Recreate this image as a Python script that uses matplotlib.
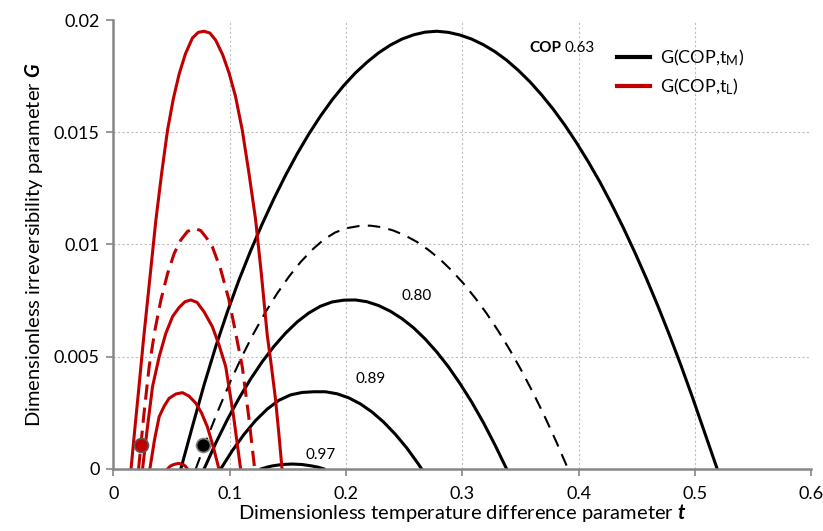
import matplotlib
matplotlib.use("Agg")
import matplotlib.pyplot as plt
from matplotlib.lines import Line2D

plt.rcParams['font.family'] = ['Lato', 'DejaVu Sans']
plt.rcParams['mathtext.fontset'] = 'custom'
plt.rcParams['mathtext.rm'] = 'Lato'
plt.rcParams['mathtext.it'] = 'Lato:italic'
plt.rcParams['mathtext.bf'] = 'Lato:bold'
plt.rcParams['mathtext.bfit'] = 'Lato:italic:bold'

# ---- data ----
# G(COP, t_M) curves (black)
tM_063 = [0.058, 0.068, 0.078, 0.088, 0.098, 0.108, 0.118, 0.128, 0.138, 0.148, 0.158, 0.168, 0.178, 0.188,
          0.198, 0.208, 0.218, 0.228, 0.238, 0.248, 0.258, 0.268, 0.278,
          0.288, 0.298, 0.308, 0.318, 0.328, 0.338, 0.348, 0.358, 0.368, 0.378, 0.388, 0.398, 0.408, 0.418,
          0.428, 0.438, 0.448, 0.458, 0.468, 0.478, 0.488, 0.498, 0.508, 0.519]
GM_063 = [0.0, 0.0019, 0.00375, 0.00545, 0.0070, 0.00842, 0.00972, 0.01092, 0.01204, 0.01308, 0.01404,
          0.01492, 0.01572, 0.01644, 0.01708, 0.01764, 0.01812, 0.01854, 0.01888, 0.01915, 0.01934, 0.01946,
          0.0195,
          0.01945, 0.01933, 0.01915, 0.0189, 0.01859, 0.01821, 0.01776, 0.01725, 0.01667, 0.01603, 0.01532,
          0.01454, 0.0137, 0.0128, 0.01182, 0.01078, 0.00967, 0.0085, 0.00726, 0.00596, 0.00459, 0.00315,
          0.00165, 0.0]

tM_071 = [0.0708, 0.0808, 0.0908, 0.1008, 0.1108, 0.1208, 0.1308, 0.1408, 0.1508, 0.1608, 0.1708, 0.1808,
          0.1908, 0.2008, 0.2108, 0.2208,
          0.2308, 0.2408, 0.2508, 0.2608, 0.2708, 0.2808, 0.2908, 0.3008, 0.3108, 0.3208, 0.3308, 0.3408,
          0.3508, 0.3608, 0.3708, 0.3808, 0.3908]
GM_071 = [0.0, 0.0014, 0.0027, 0.00392, 0.00504, 0.00606, 0.00699, 0.00782, 0.00856, 0.00921, 0.00976,
          0.01022, 0.01054, 0.01073, 0.01082, 0.01084,
          0.01077, 0.01062, 0.0104, 0.01012, 0.00976, 0.00934, 0.00884, 0.00827, 0.00763, 0.00693, 0.00615,
          0.0053, 0.00438, 0.00339, 0.00233, 0.0012, 0.0]

tM_080 = [0.078, 0.088, 0.098, 0.108, 0.118, 0.128, 0.138, 0.148, 0.158, 0.168, 0.178, 0.188, 0.198,
          0.208, 0.218, 0.228, 0.238, 0.248, 0.258, 0.268, 0.278, 0.288, 0.298, 0.308, 0.318, 0.328, 0.338]
GM_080 = [0.0, 0.00115, 0.0022, 0.00315, 0.00401, 0.00478, 0.00546, 0.00605, 0.00655, 0.00695, 0.00725,
          0.00744, 0.00752,
          0.00753, 0.00745, 0.00728, 0.00703, 0.0067, 0.00629, 0.00579, 0.00521, 0.00455, 0.0038, 0.00298,
          0.00207, 0.00107, 0.0]

tM_089 = [0.0923, 0.1023, 0.1123, 0.1223, 0.1323, 0.1423, 0.1523, 0.1623, 0.1723,
          0.1823, 0.1923, 0.2023, 0.2123, 0.2223, 0.2323, 0.2423, 0.2523, 0.2623, 0.265]
GM_089 = [0.0, 0.00082, 0.00154, 0.00216, 0.00267, 0.00306, 0.0033, 0.00341, 0.00344,
          0.00344, 0.00335, 0.00317, 0.0029, 0.00254, 0.00209, 0.00155, 0.00093, 0.00021, 0.0]

tM_097 = [0.127, 0.132, 0.137, 0.145, 0.154, 0.162, 0.170, 0.176, 0.181]
GM_097 = [0.0, 0.00008, 0.00014, 0.0002, 0.00022, 0.0002, 0.00014, 0.00008, 0.0]

# G(COP, t_L) curves (red)
tL_063 = [0.0152, 0.0187, 0.0223, 0.0258, 0.0294, 0.033, 0.0366, 0.0416, 0.0466, 0.0516, 0.0566, 0.062, 0.068,
          0.073, 0.078, 0.083, 0.088, 0.094, 0.0994, 0.105, 0.1108, 0.1165, 0.1223, 0.1272, 0.1322, 0.1358,
          0.1394, 0.1422, 0.145]
GL_063 = [0.0, 0.0019, 0.0038, 0.0057, 0.0075, 0.0093, 0.0111, 0.0132, 0.0151, 0.0165, 0.0176, 0.0185, 0.0192,
          0.01945, 0.0195, 0.01942, 0.0191, 0.01845, 0.01765, 0.0166, 0.0151, 0.0132, 0.0111, 0.0087, 0.0060,
          0.0046, 0.0031, 0.0016, 0.0]

tL_071 = [0.0217, 0.0262, 0.0308, 0.0358, 0.0409, 0.0466, 0.0523, 0.058, 0.0637, 0.0694, 0.0751, 0.080, 0.0851,
          0.0922, 0.0994, 0.105, 0.1108, 0.1162, 0.1215]
GL_071 = [0.0, 0.0024, 0.00456, 0.0062, 0.00753, 0.0087, 0.0096, 0.0102, 0.01058, 0.01072, 0.01062, 0.0103,
          0.0099, 0.0089, 0.00753, 0.0061, 0.00456, 0.0024, 0.0]

tL_080 = [0.0251, 0.0294, 0.0337, 0.0394, 0.0451, 0.051, 0.0566, 0.0616, 0.0666, 0.072, 0.078, 0.0851, 0.091,
          0.0966, 0.1032, 0.1094]
GL_080 = [0.0, 0.0019, 0.00367, 0.0050, 0.00604, 0.0068, 0.0072, 0.00745, 0.00753, 0.00742, 0.0070, 0.00634,
          0.0055, 0.00456, 0.0024, 0.0]

tL_089 = [0.0314, 0.0354, 0.0394, 0.0437, 0.048, 0.0537, 0.0594, 0.065, 0.0709, 0.0758, 0.0808, 0.0858, 0.0908]
GL_089 = [0.0, 0.0013, 0.00233, 0.0028, 0.00315, 0.00334, 0.0034, 0.00325, 0.00293, 0.0025, 0.00188, 0.0010, 0.0]

tL_097 = [0.0466, 0.049, 0.052, 0.0561, 0.060, 0.062, 0.0637]
GL_097 = [0.0, 0.00013, 0.0002, 0.00025, 0.0002, 0.00012, 0.0]

# marker points
pt_L = (0.0237, 0.00107)
pt_M = (0.0774, 0.00107)

# curve labels
cop_labels = ["0.80", "0.89", "0.97"]
cop_label_pos = [(0.261, 0.0077), (0.221, 0.0040), (0.178, 0.00062)]

xticks = [0, 0.1, 0.2, 0.3, 0.4, 0.5, 0.6]
xticklabels = ["0", "0.1", "0.2", "0.3", "0.4", "0.5", "0.6"]
yticks = [0, 0.005, 0.01, 0.015, 0.02]
yticklabels = ["0", "0.005", "0.01", "0.015", "0.02"]

RED = "#C00000"
LW = 2.2

fig = plt.figure(figsize=(8.23, 5.31), dpi=100)
ax = fig.add_axes([0.1377, 0.1168, 0.8483, 0.8455])

# grid
for gx in xticks[1:-1]:
    ax.axvline(gx, color="#BFBFBF", lw=0.8, ls=(0, (2, 2)), zorder=0)
for gy in yticks[1:-1]:
    ax.axhline(gy, color="#BFBFBF", lw=0.8, ls=(0, (2, 2)), zorder=0)

kw = dict(solid_joinstyle="round", dash_joinstyle="round")
# black curves
ax.plot(tM_063, GM_063, color="black", lw=LW, **kw)
ax.plot(tM_071, GM_071, color="black", lw=1.5, ls=(0, (6, 4)), **kw)
ax.plot(tM_080, GM_080, color="black", lw=LW, **kw)
ax.plot(tM_089, GM_089, color="black", lw=LW, **kw)
ax.plot(tM_097, GM_097, color="black", lw=LW, **kw)

# red curves
ax.plot(tL_063, GL_063, color=RED, lw=LW, **kw)
ax.plot(tL_071, GL_071, color=RED, lw=LW, ls=(0, (5, 2.6)), **kw)
ax.plot(tL_080, GL_080, color=RED, lw=LW, **kw)
ax.plot(tL_089, GL_089, color=RED, lw=LW, **kw)
ax.plot(tL_097, GL_097, color=RED, lw=LW, **kw)

# markers
ax.plot([pt_L[0]], [pt_L[1]], "o", ms=10, mfc=RED, mec="#595959", mew=1.2, zorder=5)
ax.plot([pt_M[0]], [pt_M[1]], "o", ms=10, mfc="black", mec="#7F7F7F", mew=1.2, zorder=5)

# labels on curves
for lab, (lx, ly) in zip(cop_labels, cop_label_pos):
    ax.text(lx, ly, lab, fontsize=11, ha="center", va="center")
ax.text(0.385, 0.01875, "COP", fontsize=11, fontweight="bold", ha="right", va="center")
ax.text(0.388, 0.01875, "0.63", fontsize=11, ha="left", va="center")

ax.set_xlim(0, 0.6)
ax.set_ylim(0, 0.02)
ax.set_xticks(xticks)
ax.set_xticklabels(xticklabels)
ax.set_yticks(yticks)
ax.set_yticklabels(yticklabels)
ax.tick_params(axis="both", labelsize=13, direction="out", length=5, width=1.2, color="#868686")
ax.tick_params(axis="x", pad=7)
ax.tick_params(axis="y", pad=5)

for s in ["top", "right"]:
    ax.spines[s].set_visible(False)
for s in ["left", "bottom"]:
    ax.spines[s].set_color("#868686")
    ax.spines[s].set_linewidth(1.8)
ax.spines["left"].set_zorder(6)

ax.set_xlabel(r"Dimensionless temperature difference parameter $\mathbfit{t}$", fontsize=14.5, labelpad=0)
ax.set_ylabel(r"Dimensionless irreversibility parameter $\mathbfit{G}$", fontsize=14.5, labelpad=6)

handles = [Line2D([], [], color="black", lw=3), Line2D([], [], color=RED, lw=3)]
labels = [r"G(COP,t$_\mathrm{M}$)", r"G(COP,t$_\mathrm{L}$)"]
fig.legend(handles, labels, loc="upper left", bbox_to_anchor=(610 / 823, 1 - 40 / 531), frameon=False,
           borderaxespad=0, fontsize=13, handlelength=1.8, handletextpad=0.55, labelspacing=0.5)

fig.savefig("out.png", dpi=100)
